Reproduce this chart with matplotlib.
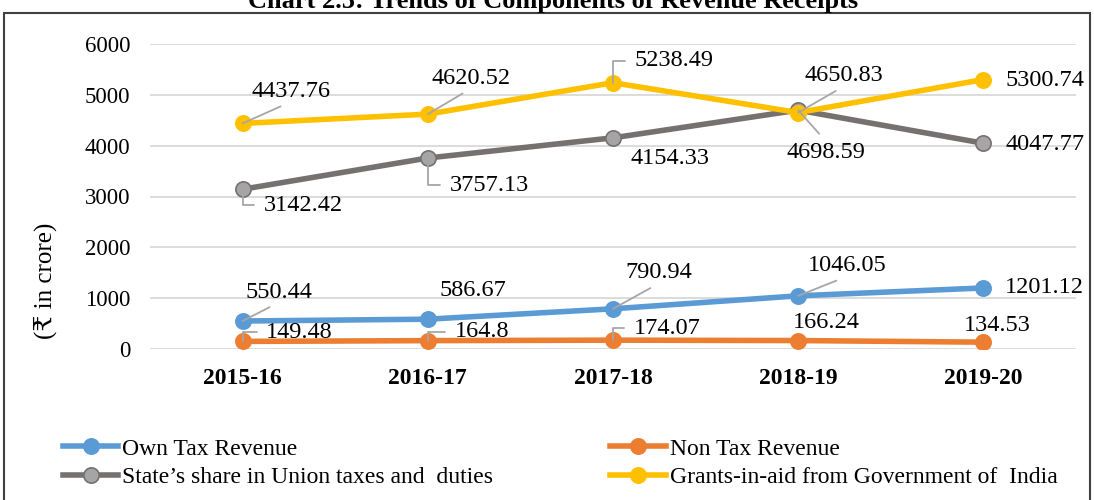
import matplotlib
matplotlib.use('Agg')
import matplotlib.pyplot as plt
from matplotlib.patches import Rectangle
from matplotlib.lines import Line2D

plt.rcParams['font.family'] = ['Liberation Serif', 'DejaVu Serif', 'DejaVu Sans']

years = ['2015-16', '2016-17', '2017-18', '2018-19', '2019-20']
own_tax = [550.44, 586.67, 790.94, 1046.05, 1201.12]
non_tax = [149.48, 164.8, 174.07, 166.24, 134.53]
state_share = [3142.42, 3757.13, 4154.33, 4698.59, 4047.77]
grants = [4437.76, 4620.52, 5238.49, 4650.83, 5300.74]

names = ['Own Tax Revenue', 'Non Tax Revenue',
         'State\u2019s share in Union taxes and  duties',
         'Grants-in-aid from Government of  India']

# label placement: (dx, dy) of text centre from point in pixels, leader style
# 's' = straight leader to text bottom, 't' = straight leader to text top, 'e' = elbow
own_pos = [(36, 29, 's'), (45, 29, None), (46, 36, 's'), (49, 30, 's'), (61, 0, None)]
non_pos = [(57, 9, 'e'), (54, 9, 'e'), (54, 12, 'e'), (28, 18, None), (14, 17, None)]
state_pos = [(61, -16, 'e'), (62, -27, 'e'), (57, -21, None), (28, -42, 't'), (62, -1, None)]
grant_pos = [(48, 32, 's'), (43, 36, 's'), (61, 22, 'e'), (46, 37, 's'), (62, -1, None)]

fig = plt.figure(figsize=(10.94, 5.0), dpi=100)
ax = fig.add_axes([150 / 1094, 1 - 349 / 500, 926 / 1094, 305 / 500])

x = list(range(len(years)))
series = [
    (own_tax, '#5B9BD5', '#5B9BD5', '#5B9BD5', own_pos),
    (non_tax, '#ED7D31', '#ED7D31', '#ED7D31', non_pos),
    (state_share, '#767171', '#A5A5A5', '#767171', state_pos),
    (grants, '#FFC000', '#FFC000', '#FFC000', grant_pos),
]

leader = dict(arrowstyle='-', color='#A6A6A6', lw=1.3, shrinkB=0)
handles = []
for (vals, lc, fc, ec, pos), name in zip(series, names):
    ax.plot(x, vals, color=lc, lw=4, marker='o', ms=11, mfc=fc, mec=ec,
            mew=1.2, zorder=3, solid_capstyle='round')
    handles.append(Line2D([], [], color=lc, lw=4, marker='o', ms=11,
                          mfc=fc, mec=ec, mew=1.2, label=name))
    for xi, v, (dx, dy, style) in zip(x, vals, pos):
        kw = {}
        if style == 's':
            kw['arrowprops'] = dict(leader, shrinkA=3, relpos=(0.5, 0.0))
        elif style == 't':
            kw['arrowprops'] = dict(leader, shrinkA=5, relpos=(0.5, 1.0))
        elif style == 'e':
            kw['arrowprops'] = dict(leader, shrinkA=5, relpos=(0.0, 0.5),
                                    connectionstyle='angle,angleA=0,angleB=90,rad=0')
        ax.annotate(f'{v:g}', (xi, v), xytext=(dx, dy), textcoords='offset pixels',
                    ha='center', va='center', fontsize=17.5, color='black',
                    zorder=4, **kw)

ax.set_xlim(-0.5, 4.5)
ax.set_ylim(0, 6000)
ax.set_yticks(range(0, 6001, 1000))
ax.set_xticks(x)
ax.set_xticklabels(years, fontweight='bold', fontsize=17)
ax.tick_params(axis='y', labelsize=16.5, length=0, pad=14)
ax.tick_params(axis='x', length=0, pad=14)
ax.grid(axis='y', color='#D9D9D9', lw=1.3)
ax.set_axisbelow(True)
for s in ax.spines.values():
    s.set_visible(False)

fig.text(45 / 1094, 1 - 281 / 500, '(\u20b9 in crore)', rotation=90,
         ha='center', va='center', fontsize=18)

order = [handles[0], handles[2], handles[1], handles[3]]
fig.legend(handles=order, loc='upper left', bbox_to_anchor=(63 / 1094, 1 - 438 / 500),
           ncol=2, frameon=False, fontsize=17, handlelength=2.35, borderpad=0,
           borderaxespad=0, handletextpad=0.17, columnspacing=4.95, labelspacing=0.3)

fig.text(553 / 1094, 1 - 8 / 500, 'Chart 2.5: Trends of Components of Revenue Receipts',
         ha='center', va='baseline', fontsize=19, fontweight='bold')
fig.patches.append(Rectangle((4 / 1094, -0.05), 1086 / 1094, 1.05 - 13 / 500,
                             transform=fig.transFigure, fill=False,
                             edgecolor='#404040', lw=1.5))

fig.savefig('out.png', dpi=100)
